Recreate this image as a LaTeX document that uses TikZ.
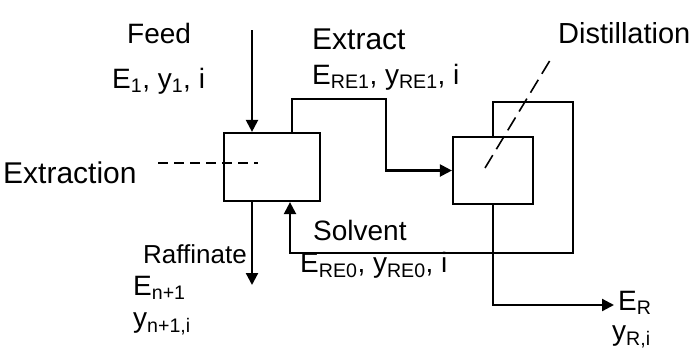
\documentclass[tikz,border=0pt]{standalone}
\usepackage{fontspec}
\setmainfont{Liberation Sans}
\usetikzlibrary{arrows.meta}
\tikzset{
  lab/.style={anchor=base west, inner sep=0pt, font=\fontsize{28}{30}\selectfont},
  unit/.style={draw, line width=2.2pt, rectangle, inner sep=0pt},
  flow/.style={line width=2.2pt, -{Triangle[length=12pt,width=12pt]}},
  guide/.style={line width=1.6pt, dash pattern=on 10pt off 6pt},
}
\begin{document}
\begin{tikzpicture}[x=1pt,y=-1pt]
\useasboundingbox (0,0) rectangle (700,359);
% units
\node[unit, minimum width=96pt, minimum height=68pt] (ext) at (272,167) {};
\node[unit, minimum width=80pt, minimum height=67pt] (dist) at (493,170.5) {};
% coordinates
\coordinate (feedtop) at (252,30);
\coordinate (raffend) at (252,285);
\coordinate (c1) at (386,99);
\coordinate (c2) at (573,102);
\coordinate (c3) at (573,253);
\coordinate (erend) at (614,305);
\coordinate (g1) at (158,163);
\coordinate (g2) at (258,163);
\coordinate (g3) at (485,168);
\coordinate (g4) at (552,57);
% flows
\draw[flow] (feedtop) -- (feedtop |- ext.north);
\draw[flow] (ext.south -| feedtop) -- (raffend);
\draw[flow] ([xshift=20pt]ext.north) |- (c1) |- (dist.west);
\draw[flow] (dist.north) |- (c2) -- (c3) -| ([xshift=18pt]ext.south);
\draw[flow] (dist.south) |- (erend);
% guides
\draw[guide] (g1) -- (g2);
\draw[guide, dash pattern=on 15pt off 7pt] (g3) -- (g4);
% labels
\node[lab] (tfeed) at (127,43) {Feed};
\node[lab] (tfeedv) at (112,88) {E\textsubscript{1}, y\textsubscript{1}, i};
\node[lab, font=\fontsize{30}{32}\selectfont] (textr) at (312,49) {Extract};
\node[lab] (textrv) at (312,84) {E\textsubscript{RE1}, y\textsubscript{RE1}, i};
\node[lab, font=\fontsize{29}{31}\selectfont] (tdist) at (558,43) {Distillation};
\node[lab, font=\fontsize{30}{32}\selectfont] (textn) at (3,183) {Extraction};
\node[lab, font=\fontsize{26}{28}\selectfont] (traff) at (143,263) {Raffinate};
\node[lab] (traffe) at (133,295) {E\textsubscript{n+1}};
\node[lab] (traffy) at (133,327) {y\textsubscript{n+1,i}};
\node[lab] (tsolv) at (313,240) {Solvent};
\node[lab] (tsolvv) at (300,272) {E\textsubscript{RE0}, y\textsubscript{RE0}, i};
\node[lab] (ter) at (618,310) {E\textsubscript{R}};
\node[lab] (tyr) at (612,340) {y\textsubscript{R,i}};
\end{tikzpicture}
\end{document}
